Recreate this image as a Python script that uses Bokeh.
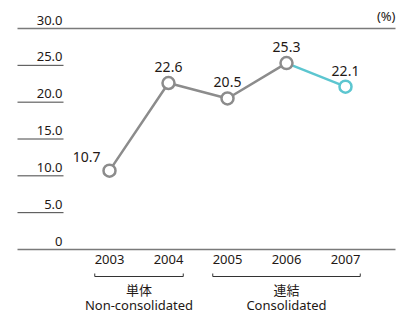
from bokeh.plotting import figure
from bokeh.models import Range1d, ColumnDataSource
from bokeh.core.properties import value
from bokeh.embed import file_html
from bokeh.resources import INLINE

# ---- data ----
years = [2003, 2004, 2005, 2006, 2007]
year_labels = ["2003", "2004", "2005", "2006", "2007"]
roe = [10.7, 22.6, 20.5, 25.3, 22.1]
y_ticks = [0, 5, 10, 15, 20, 25, 30]
y_tick_labels = ["0", "5.0", "10.0", "15.0", "20.0", "25.0", "30.0"]
groups_jp = ["単体", "連結"]
groups_en = ["Non-consolidated", "Consolidated"]
group_start = [2003, 2005]
group_end = [2004, 2007]
unit_label = "(%)"

FONT = "Noto Sans"
GRAY = "#8c8c8c"
CYAN = "#5cc6d0"
TXT = "#231815"

W, H = 402, 314
# pixel geometry
px_per_year = 59.0
x0_px = 109.0          # x pixel of 2003
ppu = 221.0 / 30.0     # pixels per y unit
y0_px = 249.0          # y pixel of value 0

x_start = years[0] - x0_px / px_per_year
x_end = years[0] + (W - x0_px) / px_per_year
y_bottom = -(H - y0_px) / ppu
y_top = y0_px / ppu

def dx(px):
    return px / px_per_year

def dy(px):
    return px / ppu

p = figure(width=W, height=H, output_backend="svg", toolbar_location=None,
           x_range=Range1d(x_start, x_end), y_range=Range1d(y_bottom, y_top),
           min_border=0, border_fill_color="white", outline_line_color=None)
p.axis.visible = False
p.grid.visible = False

# horizontal reference lines
left_x = x_start + dx(17)
short_end = x_start + dx(63)
full_end = x_start + dx(395)
for t in y_ticks:
    if t in (y_ticks[0], y_ticks[-1]):
        p.segment(x0=[left_x], y0=[t], x1=[full_end], y1=[t], line_color="#7a7a7a", line_width=1.5)
    else:
        p.segment(x0=[left_x], y0=[t], x1=[short_end], y1=[t], line_color="#444444", line_width=1)

# y tick labels
p.text(x=[short_end - dx(1)] * len(y_ticks), y=y_ticks, text=y_tick_labels,
       text_align="right", text_baseline="bottom", y_offset=-4,
       text_font=value(FONT), text_font_size="13px", text_color=TXT)

# unit label
p.text(x=[full_end], y=[y_ticks[-1]], text=[unit_label], text_align="right",
       text_baseline="bottom", y_offset=-4, text_font=value(FONT), text_font_size="13px",
       text_color=TXT)

# lines
p.line(years[:4], roe[:4], line_color=GRAY, line_width=2.5)
p.line(years[3:], roe[3:], line_color=CYAN, line_width=2.5)
p.scatter(years[:4], roe[:4], size=12, fill_color="white", line_color=GRAY, line_width=2.5)
p.scatter(years[4:], roe[4:], size=12, fill_color="white", line_color=CYAN, line_width=2.5)

# value labels
xo = [-9, 0, 0, 0, 0]
align = ["right", "center", "center", "center", "center"]
yo = [-9, -11, -11, -11, -11]
src = ColumnDataSource(dict(x=years, y=roe, t=[f"{v:.1f}" for v in roe], xo=xo, yo=yo, al=align))
p.text(x="x", y="y", text="t", x_offset="xo", y_offset="yo", text_align="al",
       text_baseline="bottom", source=src, text_font=value(FONT), text_font_size="14px",
       text_color=TXT)

# year labels
p.text(x=years, y=[0] * len(years), text=year_labels, text_align="center",
       text_baseline="top", y_offset=5, text_font=value(FONT), text_font_size="13px",
       text_color=TXT)

# brackets and group labels
by = -dy(27)
tick = dy(3)
for s, e, jp, en in zip(group_start, group_end, groups_jp, groups_en):
    a = s - 0.25
    b = e + 0.25
    p.multi_line(xs=[[a, a, b, b]], ys=[[by + tick, by, by, by + tick]],
                 line_color="#333333", line_width=1)
    c = (a + b) / 2
    p.text(x=[c], y=[by], text=[jp], text_align="center", text_baseline="top",
           y_offset=3, text_font=value("Noto Sans CJK JP"), text_font_size="13px",
           text_color=TXT)
    p.text(x=[c], y=[by], text=[en], text_align="center", text_baseline="top",
           y_offset=19, text_font=value(FONT), text_font_size="13px", text_color=TXT)

open("out.html", "w").write(file_html(p, INLINE))
